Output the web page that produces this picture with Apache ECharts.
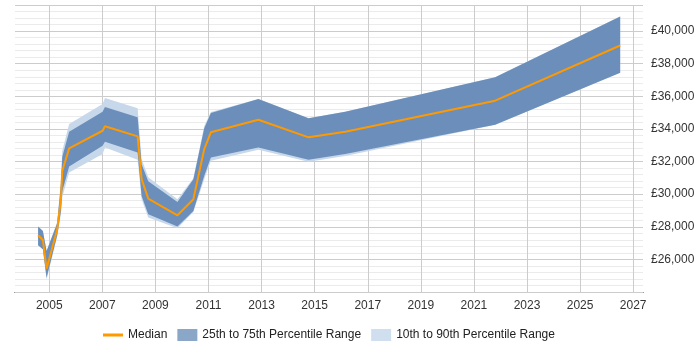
<!DOCTYPE html>
<html>
<head>
<meta charset="utf-8">
<script src="https://cdn.jsdelivr.net/npm/echarts@6/dist/echarts.min.js"></script>
<style>html,body{margin:0;padding:0;background:#fff;}#c{width:700px;height:350px;}</style>
</head>
<body>
<div id="c"></div>
<script>
// Data
const years = [2004.58, 2004.76, 2004.90, 2005.30, 2005.44, 2005.49, 2005.75, 2007.01, 2007.10, 2008.33, 2008.48, 2008.73, 2009.83, 2010.43, 2010.84, 2011.09, 2012.88, 2014.77, 2016.15, 2021.80, 2026.51];
const median = [27475, 27186, 25427, 27844, 29689, 31411, 32807, 33889, 34160, 33545, 30919, 29732, 28705, 29689, 32764, 33791, 34566, 33483, 33828, 35734, 39117];
const p25 = [26860, 26614, 24873, 27475, 28951, 30181, 31700, 32967, 33213, 32561, 29892, 28766, 28010, 28969, 31122, 32253, 32868, 32106, 32456, 34258, 37438];
const p75 = [28010, 27740, 26509, 28213, 30611, 32272, 33828, 35058, 35347, 34713, 31841, 30796, 29523, 30919, 34037, 34978, 35839, 34652, 35058, 37173, 40900];
const p10 = [26860, 26614, 24769, 27400, 28800, 29812, 31331, 32456, 32868, 32106, 29689, 28563, 27905, 28900, 30919, 32044, 32721, 31983, 32333, 34258, 37438];
const p90 = [28010, 27740, 26509, 28300, 30800, 32641, 34301, 35531, 35900, 35267, 32149, 31042, 29689, 30980, 34178, 35039, 35839, 34652, 35058, 37173, 40900];
const xTickYears = [2005, 2007, 2009, 2011, 2013, 2015, 2017, 2019, 2021, 2023, 2025, 2027];
const legendNames = ['Median', '25th to 75th Percentile Range', '10th to 90th Percentile Range'];

const pair = (arr) => arr.map((v, i) => [years[i], v]);
const triple = (lo, hi) => years.map((y, i) => [y, lo[i], hi[i]]);
const fmt = (v) => '£' + String(v).replace(/\B(?=(\d{3})+(?!\d))/g, ',');

function bandSeries(name, lo, hi, color) {
  const data = triple(lo, hi);
  return {
    name: name, type: 'custom', silent: true, color: color,
    data: data,
    encode: {x: 0, y: [1, 2]},
    renderItem: function (params, api) {
      if (params.dataIndex !== 0) return null;
      const pts = [];
      for (let i = 0; i < data.length; i++) pts.push(api.coord([data[i][0], data[i][2]]));
      for (let i = data.length - 1; i >= 0; i--) pts.push(api.coord([data[i][0], data[i][1]]));
      return {
        type: 'polygon',
        shape: {points: pts},
        style: {fill: color, stroke: null}
      };
    }
  };
}

const FONT = 'Arial, "Liberation Sans", sans-serif';
const lineIcon = 'path://M0,4.5h20v3h-20z M0,0h0.01v0.01h-0.01z M20,12h0.01v0.01h-0.01z';
const chart = echarts.init(document.getElementById('c'), null, {renderer: 'canvas'});
chart.setOption({
  animation: false,
  backgroundColor: '#ffffff',
  grid: {left: 15, right: 57, top: 5, bottom: 58, outerBoundsMode: 'none', containLabel: false},
  xAxis: {
    type: 'value',
    min: 2003.71, max: 2027.37,
    axisLine: {show: true, onZero: false, lineStyle: {color: '#000', width: 1}},
    axisTick: {show: false, customValues: xTickYears},
    axisLabel: {customValues: xTickYears, formatter: (v) => String(v), color: '#333', fontSize: 12, fontFamily: FONT, margin: 8},
    splitLine: {show: true, lineStyle: {color: '#cccccc', width: 1}}
  },
  yAxis: [
    {
      type: 'value', position: 'right', min: 24000, max: 41600, interval: 2000, z: 2,
      axisLine: {show: false}, axisTick: {show: false},
      axisLabel: {formatter: fmt, showMinLabel: false, showMaxLabel: false, color: '#333', fontSize: 12, fontFamily: FONT, margin: 8, align: 'left'},
      splitLine: {show: true, lineStyle: {color: '#cccccc', width: 1}}
    },
    {
      type: 'value', position: 'right', min: 24000, max: 41600, interval: 400, z: 0,
      axisLine: {show: false}, axisTick: {show: false}, axisLabel: {show: false},
      splitLine: {show: true, lineStyle: {color: '#ebebeb', width: 1}}
    }
  ],
  legend: {
    left: 103, top: 329, padding: 0, itemGap: 10, itemWidth: 20, itemHeight: 12,
    textStyle: {color: '#222', fontSize: 12, fontFamily: FONT},
    data: [
      {name: legendNames[0], icon: lineIcon, itemStyle: {color: '#ff9900'}},
      {name: legendNames[1], icon: 'rect', itemStyle: {color: '#8aa7c8'}},
      {name: legendNames[2], icon: 'rect', itemStyle: {color: '#d0dff0'}}
    ]
  },
  series: [
    bandSeries(legendNames[2], p10, p90, '#c7d8eb'),
    bandSeries(legendNames[1], p25, p75, '#6b8fba'),
    {name: legendNames[0], type: 'line', data: pair(median), symbol: 'none', color: '#ff9900',
     lineStyle: {color: '#ff9900', width: 2}, z: 5}
  ]
});
</script>
</body>
</html>
